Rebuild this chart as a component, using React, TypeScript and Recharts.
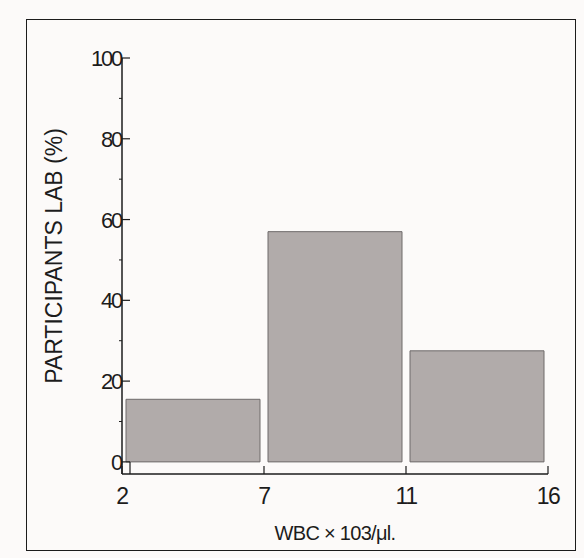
import { BarChart, Bar, XAxis, YAxis } from 'recharts';

// bin edges shown under the x axis, one bar per bin
const binEdges = ['2', '7', '11', '16'];
const binNames = ['2-7', '7-11', '11-16'];
const participantsPct = [15.5, 57, 27.5];
const yTicks = [0, 10, 20, 30, 40, 50, 60, 70, 80, 90, 100];
const edgeTicks = [0, 1, 2, 3];

// each bin sits between two edge ticks on an index axis
const data = binNames.map((bin, i) => ({ bin, slot: i + 0.5, value: participantsPct[i] }));

const INK = '#1c1c1c';
const FONT = '"Liberation Sans", Arial, sans-serif';

// y ticks: labelled majors point into the plot, unlabelled minors point out
const YTick = ({ x, y, payload }: any) => {
    const v = payload.value;
    const major = v % 20 === 0;
    return (
        <g>
            {major ? (
                <line x1={x} y1={y} x2={x + 8} y2={y} stroke={INK} strokeWidth={1.2} />
            ) : (
                <line x1={x} y1={y} x2={x - 3} y2={y} stroke={INK} strokeWidth={1} />
            )}
            {v === 0 && <line x1={x + 8} y1={y} x2={x + 8} y2={y + 12} stroke={INK} strokeWidth={1.2} />}
            {major && (
                <text x={x - 1} y={y + 8} textAnchor="end" fontFamily={FONT} fontSize={22} letterSpacing={-2.2} fill={INK}>
                    {v}
                </text>
            )}
        </g>
    );
};

const EdgeTick = ({ x, y, payload }: any) => (
    <g>
        <line x1={x} y1={y} x2={x} y2={y - 8} stroke={INK} strokeWidth={1.2} />
        <text x={x} y={y + 30} textAnchor="middle" fontFamily={FONT} fontSize={23} letterSpacing={-1.5} fill={INK}>
            {binEdges[payload.value]}
        </text>
    </g>
);

const YLabel = ({ viewBox }: any) => {
    const cx = viewBox.x + 22;
    const cy = viewBox.y + viewBox.height / 2 - 10;
    return (
        <text
            x={cx}
            y={cy}
            transform={`rotate(-90 ${cx} ${cy})`}
            textAnchor="middle"
            dominantBaseline="central"
            fontFamily={FONT}
            fontSize={23}
            fill={INK}
        >
            PARTICIPANTS LAB (%)
        </text>
    );
};

export default function App() {
    return (
        <div style={{ position: 'absolute', left: 0, top: 0, width: 584, height: 558, background: '#fcfaf9' }}>
            <div
                style={{
                    position: 'absolute',
                    left: 26,
                    top: 19,
                    width: 550,
                    height: 532,
                    border: `1.5px solid ${INK}`,
                    boxSizing: 'border-box',
                }}
            />
            <div style={{ position: 'absolute', left: 0, top: 0 }}>
                <BarChart
                    width={584}
                    height={558}
                    data={data}
                    margin={{ top: 58, right: 36, bottom: 44, left: 32 }}
                    barCategoryGap={4}
                >
                    <XAxis
                        dataKey="slot"
                        type="number"
                        domain={[0, 3]}
                        allowDataOverflow
                        ticks={edgeTicks}
                        interval={0}
                        height={40}
                        tickSize={0}
                        tickMargin={0}
                        tickLine={false}
                        tick={<EdgeTick />}
                        axisLine={{ stroke: INK, strokeWidth: 1.5 }}
                        label={{
                            value: 'WBC × 103/μl.',
                            position: 'bottom',
                            offset: 12,
                            fill: INK,
                            fontFamily: FONT,
                            fontSize: 20,
                            letterSpacing: -0.7,
                        }}
                    />
                    <YAxis
                        domain={[-3, 100]}
                        ticks={yTicks}
                        interval={0}
                        width={90}
                        tickSize={0}
                        tickMargin={0}
                        tickLine={false}
                        tick={<YTick />}
                        axisLine={{ stroke: INK, strokeWidth: 1.5 }}
                        allowDataOverflow
                        label={<YLabel />}
                    />
                    <Bar dataKey="value" fill="#b1abaa" stroke="#6e6a6a" strokeWidth={1} isAnimationActive={false} />
                </BarChart>
            </div>
        </div>
    );
}
